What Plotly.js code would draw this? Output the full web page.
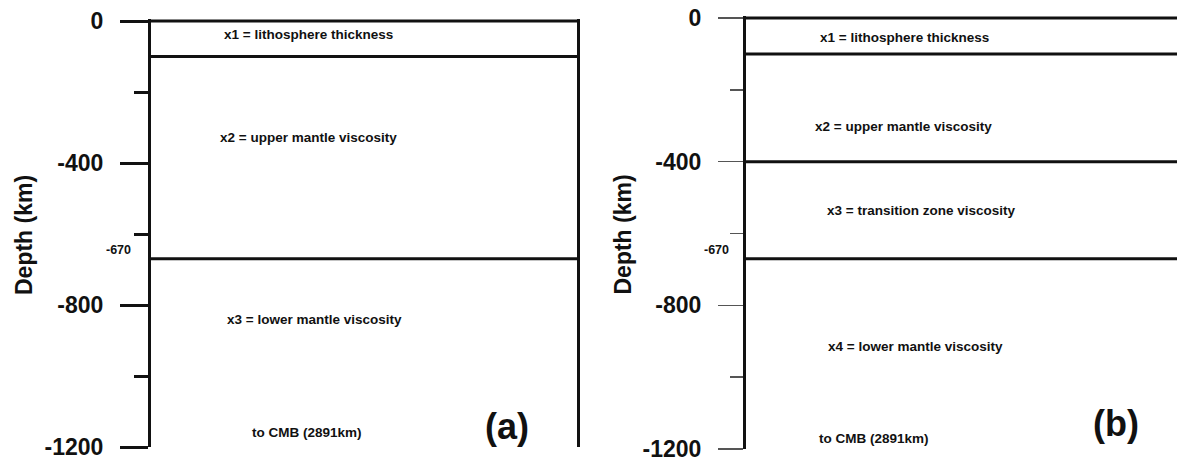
<!DOCTYPE html>
<html>
<head>
<meta charset="utf-8">
<script src="https://cdn.plot.ly/plotly-3.0.1.min.js"></script>
<style>
  html, body { margin: 0; padding: 0; background: #ffffff; }
  #chart { width: 1177px; height: 461px; }
</style>
</head>
<body>
<div id="chart"></div>
<script>
// Layer boundaries (depth, km) for the two parameterisations
const boundariesA = [0, -100, -670];
const boundariesB = [0, -100, -400, -670];

// Layer descriptions
const layerLabelsA = ["x1 = lithosphere thickness", "x2 = upper mantle viscosity", "x3 = lower mantle viscosity"];
const layerLabelsB = ["x1 = lithosphere thickness", "x2 = upper mantle viscosity", "x3 = transition zone viscosity", "x4 = lower mantle viscosity"];
const bottomNote = "to CMB (2891km)";
const panelTags = ["(a)", "(b)"];

// Axis ticks
const majorTicks = [0, -400, -800, -1200];
const minorTicks = [-200, -600, -1000];
const majorTickText = ["0", "-400", "-800", "-1200"];
const discontinuity = -670;
const discontinuityText = "-670";
const axisTitle = "Depth (km)";

const W = 1177, H = 461;
const FONT = "Liberation Sans, Arial, sans-serif";
const INK = "#111111";

// Panel frames in pixels: [left, right, y of depth 0, y of depth -1200]
const frameA = [151, 577, 21, 447];
const frameB = [746, 1177, 18, 449];
const TOP = 6; // a little headroom so the surface line is not clipped

function yDomain(f) {
  const k = (f[3] - f[2]) / 1200;
  const topPx = f[2] - TOP * k;
  return [1 - f[3] / H, 1 - topPx / H];
}

function boundaryTraces(depths, xa, ya) {
  return depths.map(d => ({
    type: "scatter", mode: "lines",
    x: [0, 1], y: [d, d],
    xaxis: xa, yaxis: ya,
    line: { color: INK, width: 3 },
    hoverinfo: "skip", showlegend: false
  }));
}

const data = [].concat(
  boundaryTraces(boundariesA, "x", "y"),
  boundaryTraces(boundariesB, "x2", "y2")
);

function yAxis(f, anchor, thick, mirror) {
  return {
    anchor: anchor,
    domain: yDomain(f),
    range: [-1200, TOP],
    showgrid: false, zeroline: false,
    showline: true, linecolor: INK, linewidth: 3, mirror: mirror,
    ticks: "outside",
    tickvals: majorTicks, ticktext: majorTickText,
    ticklen: thick ? 28 : 25,
    tickwidth: thick ? 3 : 1.5,
    tickcolor: thick ? INK : "#555555",
    ticklabelstandoff: 12,
    ticklabeloverflow: "allow",
    tickfont: { family: FONT, size: 23, color: INK, weight: "bold" },
    minor: {
      tickvals: minorTicks, ticks: "outside",
      ticklen: thick ? 14 : 13,
      tickwidth: thick ? 3 : 1.5,
      tickcolor: thick ? INK : "#555555",
      showgrid: false
    },
    fixedrange: true
  };
}

function xAxis(f) {
  return {
    domain: [f[0] / W, f[1] / W],
    range: [0, 1],
    visible: false,
    fixedrange: true
  };
}

const labelFont = { family: FONT, size: 13.5, color: INK, weight: "bold" };
const annotations = [];

function label(xa, ya, x, y, text, font) {
  annotations.push({
    xref: xa, yref: ya, x: x, y: y, text: text,
    showarrow: false, xanchor: "center", yanchor: "middle",
    font: font || labelFont
  });
}

// Panel (a)
label("x", "y", 0.369, -37, layerLabelsA[0]);
label("x", "y", 0.369, -327, layerLabelsA[1]);
label("x", "y", 0.383, -842, layerLabelsA[2]);
label("x", "y", 0.366, -1160, bottomNote);
label("x", "y", 0.836, -1141, panelTags[0], { family: FONT, size: 36, color: INK, weight: "bold" });

// Panel (b)
label("x2", "y2", 0.368, -55, layerLabelsB[0]);
label("x2", "y2", 0.365, -303, layerLabelsB[1]);
label("x2", "y2", 0.406, -535, layerLabelsB[2]);
label("x2", "y2", 0.394, -916, layerLabelsB[3]);
label("x2", "y2", 0.296, -1170, bottomNote);
label("x2", "y2", 0.858, -1128, panelTags[1], { family: FONT, size: 36, color: INK, weight: "bold" });

// Discontinuity depth marks beside each axis
[["y", 133], ["y2", 731]].forEach(([ya, px]) => {
  annotations.push({
    xref: "paper", yref: ya, x: px / W, y: discontinuity,
    text: discontinuityText, showarrow: false,
    xanchor: "right", yanchor: "bottom",
    font: { family: FONT, size: 12.5, color: INK, weight: "bold" }
  });
});

// Vertical axis titles
[[24, 235], [623, 234.5]].forEach(([px, py]) => {
  annotations.push({
    xref: "paper", yref: "paper", x: px / W, y: 1 - py / H,
    text: axisTitle, textangle: -90, showarrow: false,
    xanchor: "center", yanchor: "middle",
    font: { family: FONT, size: 23, color: INK, weight: "bold" }
  });
});

const layout = {
  width: W, height: H,
  margin: { l: 0, r: 0, t: 0, b: 0, pad: 0 },
  paper_bgcolor: "#ffffff", plot_bgcolor: "#ffffff",
  showlegend: false,
  xaxis: xAxis(frameA),
  yaxis: yAxis(frameA, "x", true, true),
  xaxis2: xAxis(frameB),
  yaxis2: yAxis(frameB, "x2", false, false),
  annotations: annotations
};

Plotly.newPlot("chart", data, layout, { staticPlot: true, displayModeBar: false });
</script>
</body>
</html>
